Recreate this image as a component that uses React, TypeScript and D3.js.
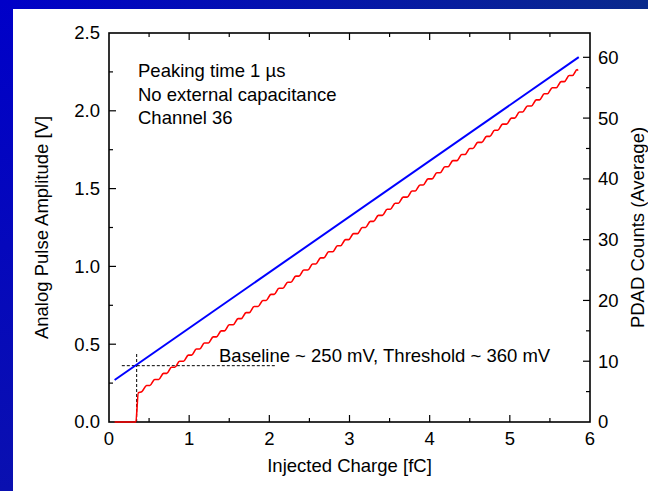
import React from "react";
import * as d3 from "d3";

// ---- data ----
const xTicks = [0, 1, 2, 3, 4, 5, 6];
const yLeftTicks = [0.0, 0.5, 1.0, 1.5, 2.0, 2.5];
const yRightTicks = [0, 10, 20, 30, 40, 50, 60];

// Analog pulse amplitude (left axis, V) vs injected charge (fC)
const blueCharge = [0.07, 5.86];
const blueAmp = [0.27, 2.345];

// PDAD counts (right axis) – start of curve and staircase step positions
const redStartCharge = [0.07, 0.335, 0.365, 0.41];
const redStartCount = [0, 0, 4.8, 5.0];
const redStepCharge = [
  0.44, 0.54, 0.65, 0.75, 0.85, 0.96, 1.06, 1.16, 1.27, 1.37, 1.47, 1.58, 1.68,
  1.78, 1.89, 1.99, 2.09, 2.2, 2.3, 2.4, 2.51, 2.61, 2.71, 2.82, 2.92, 3.02,
  3.13, 3.23, 3.33, 3.44, 3.54, 3.64, 3.75, 3.85, 3.95, 4.06, 4.16, 4.26, 4.37,
  4.47, 4.57, 4.68, 4.78, 4.88, 4.99, 5.09, 5.19, 5.3, 5.4, 5.5, 5.61, 5.71,
  5.81,
];
const redStepCount = [
  6, 7, 8, 9, 10, 11, 12, 13, 14, 15, 16, 17, 18, 19, 20, 21, 22, 23, 24, 25,
  26, 27, 28, 29, 30, 31, 32, 33, 34, 35, 36, 37, 38, 39, 40, 41, 42, 43, 44,
  45, 46, 47, 48, 49, 50, 51, 52, 53, 54, 55, 56, 57, 58,
];
const redEnd = [5.85, 57.8];

// dashed guide lines
const thresholdV = 0.362;
const thresholdCharge = 0.345;
const hLineCharge = [0.16, 2.07];
const vLineTopV = 0.44;

const infoLines = ["Peaking time 1 µs", "No external capacitance", "Channel 36"];
const annotation = "Baseline ~ 250 mV, Threshold ~ 360 mV";

// ---- layout ----
const W = 648;
const H = 491;
const L = 109, R = 590, T = 33, B = 422;
const FONT = "'Liberation Sans', Arial, Helvetica, sans-serif";
const FS = 18.5;

export default function App() {
  const x = d3.scaleLinear().domain([0, 6]).range([L, R]);
  const yL = d3.scaleLinear().domain([0, 2.5]).range([B, T]);
  const yR = d3.scaleLinear().domain([0, 64]).range([B, T]);

  const blueLine = d3
    .line<number>()
    .x((_, i) => x(blueCharge[i]))
    .y((d) => yL(d));
  const bluePath = blueLine(blueAmp) || "";

  // red staircase points
  const redPts: [number, number][] = [];
  redStartCharge.forEach((c, i) => redPts.push([c, redStartCount[i]]));
  redStepCharge.forEach((c, i) => {
    const n = redStepCount[i];
    redPts.push([c - 0.03, n - 1]);
    if (c + 0.03 < redEnd[0]) redPts.push([c + 0.03, n]);
  });
  redPts.push([redEnd[0], redEnd[1]]);
  const redLine = d3
    .line<[number, number]>()
    .x((d) => x(d[0]))
    .y((d) => yR(d[1]))
    .curve(d3.curveMonotoneX);
  const redPath = redLine(redPts) || "";

  const xMinor = d3.range(0, 6.01, 0.5);
  const yLMinor = d3.range(0, 2.51, 0.25);
  const yRMinor = d3.range(0, 64, 5);
  const isInt = (v: number, step: number) => Math.abs(v / step - Math.round(v / step)) < 1e-6;

  return (
    <svg
      width={W}
      height={H}
      style={{ position: "absolute", left: 0, top: 0, display: "block" }}
      fontFamily={FONT}
    >
      <defs>
        <linearGradient id="topband" x1="0" x2="1" y1="0" y2="0">
          <stop offset="0" stopColor="#0000C8" />
          <stop offset="1" stopColor="#0A2A8C" />
        </linearGradient>
        <linearGradient id="leftband" x1="0" x2="0" y1="0" y2="1">
          <stop offset="0" stopColor="#0000C8" />
          <stop offset="1" stopColor="#0A10B0" />
        </linearGradient>
      </defs>
      <rect x={0} y={0} width={W} height={H} fill="#ffffff" />
      <rect x={0} y={0} width={W} height={9} fill="url(#topband)" />
      <rect x={0} y={0} width={13} height={H} fill="url(#leftband)" />

      {/* ticks */}
      <g stroke="#000" strokeWidth={1.2}>
        {xMinor.map((v) => {
          const len = isInt(v, 1) ? 7 : 4;
          if (v === 0 || v === 6) return null;
          return (
            <g key={"xt" + v}>
              <line x1={x(v)} x2={x(v)} y1={B} y2={B - len} />
              <line x1={x(v)} x2={x(v)} y1={T} y2={T + len} />
            </g>
          );
        })}
        {yLMinor.map((v) => {
          const len = isInt(v, 0.5) ? 7 : 4;
          if (v === 0 || v >= 2.5) return null;
          return <line key={"yl" + v} x1={L} x2={L + len} y1={yL(v)} y2={yL(v)} />;
        })}
        {yRMinor.map((v) => {
          const len = isInt(v, 10) ? 7 : 4;
          if (v === 0) return null;
          return <line key={"yr" + v} x1={R} x2={R - len} y1={yR(v)} y2={yR(v)} />;
        })}
      </g>

      {/* frame */}
      <rect x={L} y={T} width={R - L} height={B - T} fill="none" stroke="#000" strokeWidth={1.6} />

      {/* dashed guides */}
      <g stroke="#000" strokeWidth={1} strokeDasharray="3,2" fill="none">
        <line x1={x(hLineCharge[0])} x2={x(hLineCharge[1])} y1={yL(thresholdV)} y2={yL(thresholdV)} />
        <line x1={x(thresholdCharge)} x2={x(thresholdCharge)} y1={yL(0)} y2={yL(vLineTopV)} />
      </g>

      {/* data */}
      <path d={redPath} fill="none" stroke="#FF0000" strokeWidth={1.6} />
      <path d={bluePath} fill="none" stroke="#0000FF" strokeWidth={2} />

      {/* tick labels */}
      <g fontSize={FS} fill="#000">
        {xTicks.map((v) => (
          <text key={"xl" + v} x={x(v)} y={445} textAnchor="middle">
            {String(v)}
          </text>
        ))}
        {yLeftTicks.map((v) => (
          <text key={"yll" + v} x={100} y={yL(v)} dy="0.35em" textAnchor="end">
            {v.toFixed(1)}
          </text>
        ))}
        {yRightTicks.map((v) => (
          <text key={"yrl" + v} x={598} y={yR(v)} dy="0.35em" textAnchor="start">
            {String(v)}
          </text>
        ))}
      </g>

      {/* axis titles */}
      <g fontSize={FS} fill="#000">
        <text x={(L + R) / 2} y={472} textAnchor="middle">
          Injected Charge [fC]
        </text>
        <text transform={`translate(48, ${(T + B) / 2}) rotate(-90)`} textAnchor="middle">
          Analog Pulse Amplitude [V]
        </text>
        <text transform={`translate(644, ${(T + B) / 2}) rotate(-90)`} textAnchor="middle">
          PDAD Counts (Average)
        </text>
      </g>

      {/* annotations */}
      <g fontSize={FS} fill="#000">
        {infoLines.map((s, i) => (
          <text key={s} x={138} y={77 + i * 23.5}>
            {s}
          </text>
        ))}
        <text x={219} y={362}>
          {annotation}
        </text>
      </g>
    </svg>
  );
}
